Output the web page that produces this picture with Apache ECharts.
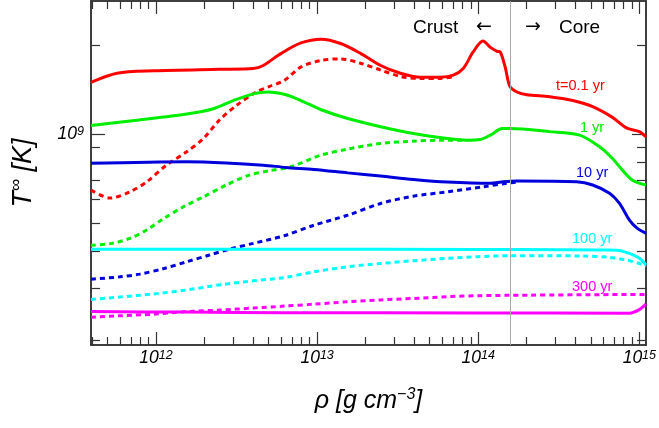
<!DOCTYPE html>
<html>
<head>
<meta charset="utf-8">
<script src="https://cdn.jsdelivr.net/npm/echarts@6/dist/echarts.min.js"></script>
<style>
  html, body { margin: 0; padding: 0; background: #fff; }
  #chart { width: 659px; height: 428px; }
</style>
</head>
<body>
<div id="chart"></div>
<script>
// [rho (g cm^-3), T_inf (K)]
const redSolid = [
  [3.95e11, 1.50e9], [5.73e11, 1.61e9], [9.68e11, 1.64e9], [2.47e12, 1.66e9], [4.01e12, 1.67e9],
  [4.63e12, 1.71e9], [5.98e12, 1.88e9], [7.94e12, 2.04e9], [1.06e13, 2.10e9], [1.40e13, 2.03e9],
  [1.86e13, 1.88e9], [2.48e13, 1.71e9], [3.29e13, 1.61e9], [4.38e13, 1.56e9], [5.82e13, 1.56e9],
  [7.00e13, 1.585e9], [8.07e13, 1.67e9], [9.30e13, 1.90e9], [1.07e14, 2.07e9], [1.19e14, 1.97e9],
  [1.31e14, 1.91e9], [1.37e14, 1.90e9], [1.47e14, 1.69e9], [1.57e14, 1.455e9], [1.74e14, 1.39e9],
  [2.00e14, 1.36e9], [2.78e14, 1.34e9], [3.86e14, 1.30e9], [5.13e14, 1.24e9], [6.81e14, 1.14e9],
  [8.31e14, 1.05e9], [1.00e15, 1.02e9], [1.10e15, 9.79e8]
];
const redDash = [
  [3.95e11, 6.46e8], [5.18e11, 6.07e8], [6.88e11, 6.37e8], [8.76e11, 6.89e8], [1.16e12, 7.85e8],
  [1.55e12, 8.71e8], [1.97e12, 9.67e8], [2.47e12, 1.115e9], [3.15e12, 1.25e9], [4.19e12, 1.39e9],
  [5.04e12, 1.45e9], [6.24e12, 1.52e9], [7.94e12, 1.69e9], [1.06e13, 1.78e9], [1.40e13, 1.80e9],
  [1.86e13, 1.74e9], [2.48e13, 1.65e9], [3.29e13, 1.57e9], [4.38e13, 1.545e9], [5.82e13, 1.545e9],
  [7.20e13, 1.57e9]
];
const greenSolid = [
  [3.95e11, 1.07e9], [7.60e11, 1.115e9], [1.55e12, 1.17e9], [2.27e12, 1.22e9], [3.02e12, 1.30e9],
  [4.01e12, 1.37e9], [4.97e12, 1.39e9], [6.42e12, 1.36e9], [7.94e12, 1.30e9], [1.06e13, 1.21e9],
  [1.55e13, 1.13e9], [2.48e13, 1.06e9], [3.96e13, 1.005e9], [6.43e13, 9.67e8], [8.54e13, 9.54e8],
  [1.03e14, 9.59e8], [1.19e14, 9.92e8], [1.41e14, 1.045e9], [1.57e14, 1.045e9], [2.78e14, 1.02e9],
  [4.26e14, 9.92e8], [5.66e14, 9.06e8], [6.81e14, 8.27e8], [7.85e14, 7.55e8], [9.06e14, 6.98e8],
  [1.10e15, 6.72e8]
];
const greenDash = [
  [3.95e11, 4.20e8], [5.33e11, 4.26e8], [6.88e11, 4.43e8], [8.76e11, 4.73e8], [1.12e12, 5.18e8],
  [1.48e12, 5.67e8], [1.97e12, 6.13e8], [2.73e12, 6.72e8], [3.79e12, 7.26e8], [5.04e12, 7.51e8],
  [6.89e12, 7.75e8], [1.06e13, 8.49e8], [1.55e13, 8.9e8], [2.48e13, 9.30e8], [3.96e13, 9.47e8],
  [5.82e13, 9.54e8], [8.54e13, 9.54e8]
];
const blueSolid = [
  [3.95e11, 7.96e8], [1.55e12, 8.06e8], [2.73e12, 7.99e8], [4.63e12, 7.85e8], [6.42e12, 7.71e8],
  [9.56e12, 7.59e8], [1.55e13, 7.39e8], [2.48e13, 7.21e8], [3.96e13, 7.02e8], [6.43e13, 6.88e8],
  [1.19e14, 6.81e8], [1.43e14, 6.89e8], [1.74e14, 6.93e8], [4.08e14, 6.89e8], [5.13e14, 6.72e8],
  [6.53e14, 6.30e8], [7.53e14, 5.82e8], [8.68e14, 5.11e8], [9.72e14, 4.79e8], [1.10e15, 4.61e8]
];
const blueDash = [
  [3.95e11, 3.22e8], [5.97e11, 3.28e8], [7.93e11, 3.35e8], [1.12e12, 3.50e8], [1.55e12, 3.69e8],
  [2.15e12, 3.89e8], [2.85e12, 4.07e8], [4.01e12, 4.26e8], [6.24e12, 4.52e8], [9.56e12, 4.91e8],
  [1.55e13, 5.31e8], [2.48e13, 5.82e8], [3.96e13, 6.16e8], [6.43e13, 6.37e8], [1.07e14, 6.63e8],
  [1.51e14, 6.81e8], [1.74e14, 6.88e8]
];
const cyanSolid = [
  [3.95e11, 4.07e8], [6.42e12, 4.07e8], [1.00e14, 4.06e8], [7.21e14, 4.04e8], [8.68e14, 3.94e8],
  [1.00e15, 3.79e8], [1.10e15, 3.60e8]
];
const cyanDash = [
  [3.95e11, 2.75e8], [5.97e11, 2.80e8], [9.68e11, 2.87e8], [1.55e12, 2.96e8], [2.47e12, 3.08e8],
  [4.01e12, 3.18e8], [6.24e12, 3.26e8], [9.56e12, 3.41e8], [1.55e13, 3.55e8], [2.48e13, 3.64e8],
  [3.96e13, 3.72e8], [6.43e13, 3.79e8], [1.00e14, 3.84e8], [1.57e14, 3.87e8], [4.45e14, 3.86e8],
  [6.53e14, 3.82e8], [8.31e14, 3.74e8], [1.00e15, 3.64e8], [1.10e15, 3.57e8]
];
const magentaSolid = [
  [3.95e11, 2.50e8], [1.55e12, 2.49e8], [6.24e12, 2.48e8], [1.00e14, 2.475e8], [8.68e14, 2.47e8],
  [1.00e15, 2.54e8], [1.10e15, 2.65e8]
];
const magentaDash = [
  [3.95e11, 2.39e8], [5.97e11, 2.42e8], [9.68e11, 2.45e8], [1.55e12, 2.50e8], [2.47e12, 2.53e8],
  [4.01e12, 2.57e8], [6.24e12, 2.61e8], [9.56e12, 2.65e8], [1.55e13, 2.70e8], [2.48e13, 2.74e8],
  [3.96e13, 2.77e8], [6.43e13, 2.81e8], [1.00e14, 2.83e8], [1.57e14, 2.84e8], [1.10e15, 2.86e8]
];

const curveLabels = ['t=0.1 yr', '1 yr', '10 yr', '100 yr', '300 yr'];
const curveColors = ['#ff0000', '#00ee00', '#0000dd', '#00ffff', '#ff00ff'];

const xMajorTicks = [1e12, 1e13, 1e14, 1e15];
const yMajorTicks = [1e9];
const xDecades = [1e11, 1e12, 1e13, 1e14];
const yDecades = [1e8, 1e9];
const rhoMin = 3.95e11, rhoMax = 1.1e15;
const tMin = 1.926e8, tMax = 2.83e9;
const crustCoreRho = 1.58e14;

function minorTicks(decades, lo, hi) {
  var out = [];
  decades.forEach(function (d) {
    for (var k = 2; k <= 9; k++) {
      var v = k * d;
      if (v >= lo && v <= hi) out.push(v);
    }
  });
  return out;
}

const FONT = 'Liberation Sans, Arial, sans-serif';
const AXIS_COLOR = '#333';

function supLabel(v) {
  return '{b|10}{s|' + Math.round(Math.log10(v)) + '}';
}
const labelRich = {
  b: { fontSize: 17.5, fontStyle: 'italic', fontFamily: FONT, color: '#000', lineHeight: 19 },
  s: { fontSize: 12.5, fontStyle: 'italic', fontFamily: FONT, color: '#000', verticalAlign: 'top', lineHeight: 12 }
};

function makeAxis(kind, position, ticks, len, labels, extra) {
  var ax = {
    type: 'log',
    position: position,
    min: kind === 'x' ? rhoMin : tMin,
    max: kind === 'x' ? rhoMax : tMax,
    axisLine: { show: true, lineStyle: { color: AXIS_COLOR, width: 1.5 } },
    axisTick: { show: true, inside: true, length: len, customValues: ticks,
                lineStyle: { color: AXIS_COLOR, width: 1.2 } },
    axisLabel: labels ? {
      show: true, customValues: labels, formatter: supLabel, rich: labelRich,
      margin: kind === 'x' ? 4 : 7
    } : { show: false },
    splitLine: { show: false },
    minorTick: { show: false }
  };
  return Object.assign(ax, extra || {});
}

const xMinor = minorTicks(xDecades, rhoMin, rhoMax);
const yMinor = minorTicks(yDecades, tMin, tMax);

const series = [];
const solids = [redSolid, greenSolid, blueSolid, cyanSolid, magentaSolid];
const dashes = [redDash, greenDash, blueDash, cyanDash, magentaDash];
for (let i = 0; i < 5; i++) {
  series.push({
    name: curveLabels[i] + ' dashed', type: 'line', data: dashes[i], showSymbol: false,
    smooth: 0.3, z: 3,
    lineStyle: { color: curveColors[i], width: 3, type: [5, 4] }
  });
}
for (let i = 4; i >= 0; i--) {
  series.push({
    name: curveLabels[i], type: 'line', data: solids[i], showSymbol: false,
    smooth: 0.3, z: 4,
    lineStyle: { color: curveColors[i], width: 3 }
  });
}
// crust/core boundary
series.push({
  type: 'line', data: [], z: 1,
  markLine: {
    silent: true, symbol: 'none', label: { show: false },
    lineStyle: { color: '#aaa', width: 1, type: 'solid' },
    data: [{ xAxis: crustCoreRho }]
  }
});

const labelPos = [[556, 78], [580, 120], [576, 165], [572, 231], [572, 279]];
const graphics = curveLabels.map(function (t, i) {
  return {
    type: 'text', left: labelPos[i][0], top: labelPos[i][1],
    style: { text: t, fill: curveColors[i], font: '14.5px ' + FONT }
  };
});
[['Crust', 413, FONT], ['\u2190', 476, 'DejaVu Sans'], ['\u2192', 525, 'DejaVu Sans'], ['Core', 559, FONT]].forEach(function (t) {
  graphics.push({
    type: 'text', left: t[1], top: 18,
    style: { text: t[0], fill: '#000', font: '19px ' + t[2] }
  });
});

const chart = echarts.init(document.getElementById('chart'));
chart.setOption({
  animation: false,
  backgroundColor: '#fff',
  grid: { left: 89, right: 12, top: 1, bottom: 83, containLabel: false },
  xAxis: [
    makeAxis('x', 'bottom', xMajorTicks, 13, xMajorTicks, {
      name: '{a|\u03c1 [g cm}{s|\u22123}{a|]}',
      nameLocation: 'middle', nameGap: 42,
      nameTextStyle: { rich: {
        a: { fontSize: 25, fontStyle: 'italic', fontFamily: FONT, color: '#000', lineHeight: 28 },
        s: { fontSize: 16, fontStyle: 'italic', fontFamily: FONT, color: '#000', verticalAlign: 'top', lineHeight: 16 }
      } }
    }),
    makeAxis('x', 'bottom', xMinor, 8, null),
    makeAxis('x', 'top', xMajorTicks, 13, null),
    makeAxis('x', 'top', xMinor, 8, null)
  ],
  yAxis: [
    makeAxis('y', 'left', yMajorTicks, 14, yMajorTicks, {
      name: '{a|T}{s|\u221e}{a| [K]}',
      nameLocation: 'middle', nameGap: 53, nameRotate: 90,
      nameTextStyle: { rich: {
        a: { fontSize: 27, fontStyle: 'italic', fontFamily: FONT, color: '#000', lineHeight: 30 },
        s: { fontSize: 17, fontStyle: 'italic', fontFamily: FONT, color: '#000', verticalAlign: 'top', lineHeight: 17 }
      } }
    }),
    makeAxis('y', 'left', yMinor, 9, null),
    makeAxis('y', 'right', yMajorTicks, 14, null),
    makeAxis('y', 'right', yMinor, 9, null)
  ],
  series: series,
  graphic: graphics
});
</script>
</body>
</html>
